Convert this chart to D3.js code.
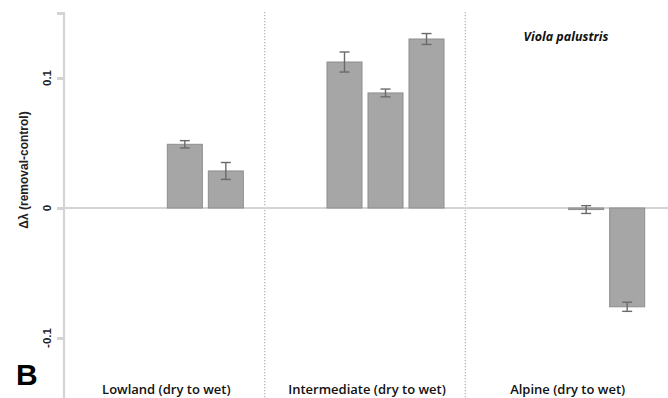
<!DOCTYPE html>
<html>
<head>
<meta charset="utf-8">
<script src="https://cdn.jsdelivr.net/npm/d3@7"></script>
<style>
  html, body { margin: 0; padding: 0; background: #fff; }
  svg { display: block; }
</style>
</head>
<body>
<svg id="chart" width="668" height="398"></svg>
<script>
// Regions along the elevation gradient, each with four sites ordered dry to wet
const regions = ["Lowland", "Intermediate", "Alpine"];
const regionLabels = ["Lowland (dry to wet)", "Intermediate (dry to wet)", "Alpine (dry to wet)"];
const sites = [0, 1, 2, 3];

// Δλ (removal − control) per site; null where the species was absent
const lowlandValues      = [null, null, 0.049, 0.0285];
const intermediateValues = [null, 0.1123, 0.0885, 0.1300];
const alpineValues       = [null, null, -0.0012, -0.0760];

// Standard errors
const lowlandErrors      = [null, null, 0.0028, 0.0065];
const intermediateErrors = [null, 0.0077, 0.0030, 0.0042];
const alpineErrors       = [null, null, 0.0030, 0.0035];

const yTicks = [0.15, 0.1, 0, -0.1];
const yTickLabels = ["", "0.1", "0", "-0.1"];
const speciesName = "Viola palustris";
const panelLetter = "B";

const valuesByRegion = [lowlandValues, intermediateValues, alpineValues];
const errorsByRegion = [lowlandErrors, intermediateErrors, alpineErrors];
const data = [];
regions.forEach((r, i) => sites.forEach(s => {
  if (valuesByRegion[i][s] !== null) {
    data.push({ region: r, site: s, value: valuesByRegion[i][s], err: errorsByRegion[i][s] });
  }
}));

const svg = d3.select("#chart");
const axisX = 64;

const y = d3.scaleLinear().domain([-0.15, 0.15]).range([403, 13]);
const x0 = d3.scaleBand().domain(regions).range([axisX, 666]);
const x1 = d3.scaleBand().domain(sites).range([0, x0.bandwidth()])
  .paddingInner(0.146).paddingOuter(0.52);

// Dotted separators between regions
svg.append("g").selectAll("line")
  .data(regions.slice(1))
  .join("line")
  .attr("x1", d => x0(d)).attr("x2", d => x0(d))
  .attr("y1", 12).attr("y2", 398)
  .attr("stroke", "#b8b8b8")
  .attr("stroke-width", 1.4)
  .attr("stroke-dasharray", "1.2,1.8");

// Zero reference line
svg.append("line")
  .attr("x1", axisX - 7).attr("x2", 668)
  .attr("y1", y(0)).attr("y2", y(0))
  .attr("stroke", "#d4d4d4")
  .attr("stroke-width", 2.2);

// Y axis
const yAxis = d3.axisLeft(y).tickValues(yTicks).tickSize(7).tickFormat((d, i) => yTickLabels[i]);
const gy = svg.append("g").attr("transform", `translate(${axisX},0)`).call(yAxis);
gy.select(".domain").remove();
gy.selectAll(".tick line").attr("stroke", "#d4d4d4").attr("stroke-width", 3);
gy.selectAll(".tick text").remove();
svg.append("line")
  .attr("x1", axisX).attr("x2", axisX)
  .attr("y1", 12).attr("y2", 398)
  .attr("stroke", "#d4d4d4").attr("stroke-width", 2.2);

svg.append("g").selectAll("text")
  .data(yTicks.filter((d, i) => yTickLabels[i] !== ""))
  .join("text")
  .attr("transform", d => `translate(51,${y(d)}) rotate(-90)`)
  .attr("text-anchor", "middle")
  .attr("font-family", "Liberation Sans, Arial, sans-serif")
  .attr("font-weight", "bold")
  .attr("font-size", 11.5)
  .attr("fill", "#222")
  .text(d => yTickLabels[yTicks.indexOf(d)]);

svg.append("text")
  .attr("transform", `translate(28,170) rotate(-90)`)
  .attr("text-anchor", "middle")
  .attr("font-family", "Liberation Sans, Arial, sans-serif")
  .attr("font-weight", "bold")
  .attr("font-size", 12)
  .attr("fill", "#222")
  .text("Δλ (removal-control)");

// Bars
const gBars = svg.append("g");
gBars.selectAll("rect")
  .data(data)
  .join("rect")
  .attr("x", d => x0(d.region) + x1(d.site))
  .attr("width", x1.bandwidth())
  .attr("y", d => y(Math.max(0, d.value)))
  .attr("height", d => Math.max(1.5, Math.abs(y(d.value) - y(0))))
  .attr("fill", "#a6a6a6")
  .attr("stroke", "#8e8e8e")
  .attr("stroke-width", 1);

// Error bars
const capHalf = 5;
const gErr = svg.append("g").attr("stroke", "#6a6a6a").attr("stroke-width", 1.4);
data.forEach(d => {
  const cx = x0(d.region) + x1(d.site) + x1.bandwidth() / 2;
  const yHi = y(d.value + d.err), yLo = y(d.value - d.err);
  gErr.append("line").attr("x1", cx).attr("x2", cx).attr("y1", yHi).attr("y2", yLo);
  gErr.append("line").attr("x1", cx - capHalf).attr("x2", cx + capHalf).attr("y1", yHi).attr("y2", yHi);
  gErr.append("line").attr("x1", cx - capHalf).attr("x2", cx + capHalf).attr("y1", yLo).attr("y2", yLo);
});

// Region labels along the bottom
svg.append("g").selectAll("text")
  .data(regions)
  .join("text")
  .attr("x", d => x0(d) + x0.bandwidth() / 2 + 2)
  .attr("y", 394)
  .attr("text-anchor", "middle")
  .attr("font-family", "Open Sans, sans-serif")
  .attr("font-weight", 600)
  .attr("font-size", 13)
  .attr("fill", "#111")
  .text((d, i) => regionLabels[i]);

// Species name
svg.append("text")
  .attr("x", 566)
  .attr("y", 41)
  .attr("text-anchor", "middle")
  .attr("font-family", "Open Sans, sans-serif")
  .attr("font-weight", 700)
  .attr("font-style", "italic")
  .attr("font-size", 12.5)
  .attr("fill", "#111")
  .text(speciesName);

// Panel letter
svg.append("text")
  .attr("x", 16)
  .attr("y", 385)
  .attr("font-family", "Liberation Sans, Arial, sans-serif")
  .attr("font-weight", "bold")
  .attr("font-size", 30)
  .attr("fill", "#000")
  .text(panelLetter);
</script>
</body>
</html>
